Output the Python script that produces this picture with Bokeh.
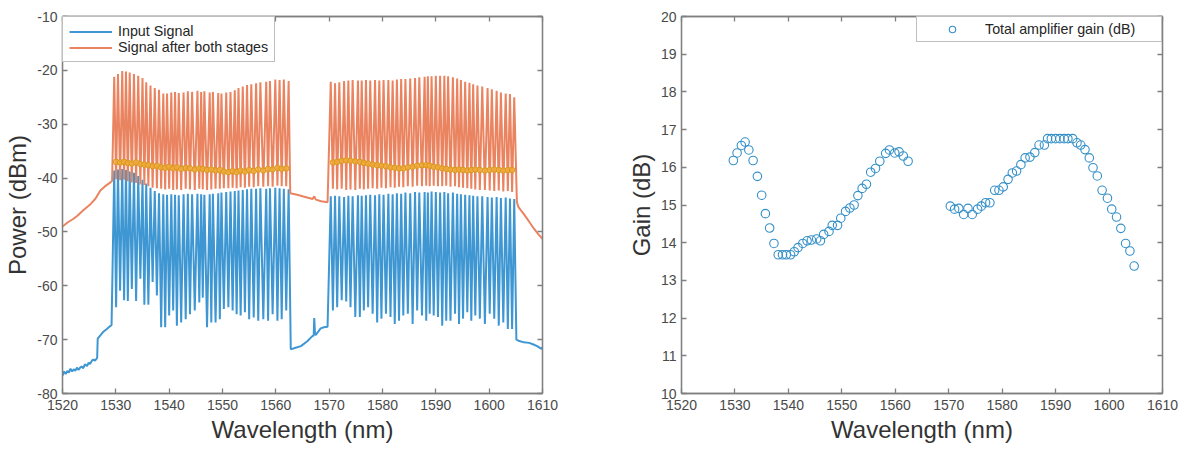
from bokeh.plotting import figure
from bokeh.models import Legend, LegendItem, LinearAxis, FixedTicker, Range1d, PrintfTickFormatter
from bokeh.layouts import row
from bokeh.embed import file_html
from bokeh.resources import INLINE

# ---------------- data: left panel (spectra) ----------------
x_ticks = [1520, 1530, 1540, 1550, 1560, 1570, 1580, 1590, 1600, 1610]
p_ticks = [-80, -70, -60, -50, -40, -30, -20, -10]
g_ticks = [10, 11, 12, 13, 14, 15, 16, 17, 18, 19, 20]

wl_band1 = [1529.7, 1530.4, 1531.2, 1531.9, 1532.6, 1533.4, 1534.2, 1535.0, 1535.7, 1536.5,
            1537.3, 1538.1, 1538.9, 1539.6, 1540.4, 1541.1, 1541.8, 1542.7, 1543.5, 1544.3,
            1545.3, 1546.0, 1546.6, 1547.6, 1548.2, 1549.2, 1549.8, 1550.7, 1551.5, 1552.3,
            1553.0, 1553.8, 1554.6, 1555.4, 1556.3, 1557.1, 1558.2, 1558.9, 1559.9, 1560.7,
            1561.5, 1562.4]
wl_band2 = [1570.3, 1571.1, 1571.9, 1572.8, 1573.6, 1574.4, 1575.4, 1576.1, 1576.9, 1577.7,
            1578.6, 1579.4, 1580.2, 1581.1, 1581.9, 1582.7, 1583.5, 1584.3, 1585.2, 1586.1,
            1586.9, 1587.9, 1588.5, 1589.2, 1590.0, 1590.8, 1591.6, 1592.3, 1593.2, 1594.0,
            1594.7, 1595.5, 1596.3, 1597.0, 1597.8, 1598.7, 1599.7, 1600.5, 1601.4, 1602.2,
            1603.1, 1603.9, 1604.7]

in_peak1 = [-38.6, -38.4, -38.3, -38.5, -38.8, -39.0, -39.6, -40.3, -41.0, -41.8,
            -42.4, -42.8, -43.0, -43.1, -43.0, -43.1, -43.2, -43.0, -42.9, -43.0,
            -42.9, -43.0, -43.1, -43.0, -42.9, -42.8, -42.7, -42.6, -42.5, -42.4,
            -42.3, -42.2, -42.1, -42.0, -42.0, -41.9, -42.0, -41.9, -41.8, -41.9,
            -42.0, -42.1]
in_dip1 = [-64.0, -60.9, -62.7, -62.8, -60.6, -62.8, -58.7, -63.5, -63.5, -59.3,
           -61.8, -67.7, -67.7, -65.5, -64.6, -67.4, -66.8, -66.2, -65.3, -64.6,
           -63.1, -62.2, -67.7, -66.8, -66.8, -66.2, -64.3, -64.0, -64.6, -65.3,
           -65.5, -64.9, -66.2, -65.9, -66.5, -66.2, -66.5, -65.3, -66.5, -66.2,
           -64.6]
in_peak2 = [-43.4, -43.3, -43.4, -43.5, -43.3, -43.4, -43.2, -43.3, -43.2, -43.1,
            -43.2, -43.0, -43.1, -42.9, -43.0, -42.8, -42.9, -42.7, -42.8, -42.6,
            -42.7, -42.6, -42.7, -42.5, -42.6, -42.7, -42.6, -42.8, -42.7, -42.9,
            -43.0, -43.1, -43.2, -43.3, -43.4, -43.4, -43.5, -43.6, -43.5, -43.7,
            -43.6, -43.8, -43.9]
in_dip2 = [-64.6, -64.0, -62.7, -62.9, -64.0, -65.8, -65.8, -64.6, -64.0, -65.2,
           -66.8, -66.1, -65.2, -65.8, -67.1, -66.5, -65.5, -65.2, -67.1, -64.6,
           -65.5, -66.5, -65.2, -65.5, -65.8, -67.4, -66.5, -66.5, -65.2, -67.1,
           -66.1, -64.9, -66.5, -65.5, -66.1, -67.1, -65.2, -66.1, -67.4, -66.8,
           -68.0, -68.0]

out_peak1 = [-21.2, -20.7, -20.1, -20.2, -20.4, -20.7, -21.0, -21.4, -22.2, -22.8,
             -23.3, -23.6, -24.3, -24.3, -24.1, -24.0, -24.2, -24.1, -23.9, -24.0,
             -23.8, -24.0, -23.9, -24.1, -24.0, -24.2, -24.3, -24.1, -24.0, -23.7,
             -23.3, -23.0, -22.7, -22.6, -22.4, -22.2, -22.1, -22.0, -21.7, -21.8,
             -21.7, -22.0]
out_low1 = [-40.2, -40.4, -40.3, -40.6, -40.8, -40.9, -41.2, -41.3, -41.5, -41.8,
            -41.9, -42.0, -42.1, -42.0, -42.2, -42.1, -42.2, -42.0, -42.1, -42.2,
            -42.0, -42.1, -42.2, -42.1, -42.0, -42.0, -41.9, -41.9, -41.8, -41.9,
            -41.7, -41.8, -41.6, -41.7, -41.5, -41.6, -41.5, -41.6, -41.4, -41.5,
            -41.5]
out_valley1 = [-37.0, -37.1, -37.0, -37.2, -37.3, -37.1, -37.4, -37.5, -37.6, -37.8,
               -37.7, -38.0, -38.1, -37.9, -38.2, -38.0, -38.3, -38.1, -38.2, -38.4,
               -38.2, -38.3, -38.5, -38.4, -38.6, -38.5, -38.8, -38.9, -38.7, -38.9,
               -38.6, -38.8, -38.5, -38.7, -38.4, -38.6, -38.3, -38.4, -38.1, -38.3,
               -38.2]
out_peak2 = [-22.1, -22.4, -22.2, -22.0, -21.9, -21.8, -21.9, -21.9, -21.8, -21.9,
             -21.8, -21.9, -21.8, -21.8, -21.9, -21.7, -21.6, -21.6, -21.5, -21.4,
             -21.3, -21.2, -21.1, -21.1, -21.0, -21.0, -21.0, -21.1, -21.3, -21.5,
             -21.8, -22.1, -22.3, -22.6, -22.8, -23.0, -23.3, -23.5, -23.8, -24.1,
             -24.3, -24.4, -25.0]
out_low2 = [-42.0, -42.1, -42.0, -42.2, -42.1, -42.2, -42.0, -42.1, -42.0, -41.9,
            -42.0, -41.8, -41.9, -41.7, -41.8, -41.6, -41.7, -41.5, -41.6, -41.4,
            -41.5, -41.4, -41.5, -41.4, -41.5, -41.5, -41.4, -41.6, -41.5, -41.7,
            -41.8, -41.9, -42.0, -42.1, -42.2, -42.2, -42.3, -42.4, -42.3, -42.5,
            -42.4, -42.6]
out_valley2 = [-37.1, -37.0, -36.8, -36.7, -36.8, -36.9, -37.0, -37.2, -37.3, -37.5,
               -37.6, -37.7, -37.8, -38.0, -38.1, -38.2, -38.2, -38.0, -37.9, -37.7,
               -37.6, -37.6, -37.7, -37.9, -38.0, -38.2, -38.3, -38.4, -38.5, -38.4,
               -38.5, -38.6, -38.5, -38.4, -38.5, -38.6, -38.5, -38.4, -38.5, -38.6,
               -38.5, -38.5]

in_left_wl = [1520.0, 1520.3, 1520.6, 1520.9, 1521.2, 1521.5, 1521.8, 1522.1, 1522.4, 1522.7,
              1523.0, 1523.3, 1523.6, 1523.9, 1524.2, 1524.6, 1524.9, 1525.2, 1525.5, 1525.8,
              1526.1, 1526.5, 1526.6, 1527.1, 1527.6, 1528.2, 1528.9, 1529.2]
in_left_p = [-76.7, -75.9, -76.4, -75.8, -76.1, -75.4, -75.9, -75.5, -75.8, -75.2,
             -75.6, -75.2, -75.0, -75.3, -74.6, -74.9, -74.3, -74.5, -73.9, -73.7,
             -73.9, -73.4, -69.8, -69.2, -68.6, -68.1, -67.5, -67.3]
in_gap_wl = [1562.8, 1563.7, 1564.7, 1565.9, 1566.8, 1567.1, 1567.2, 1567.35, 1567.5, 1568.4, 1569.0, 1569.7]
in_gap_p = [-71.8, -71.5, -71.2, -70.3, -69.4, -69.2, -66.0, -69.0, -69.1, -67.9, -67.7, -67.6]
in_right_wl = [1605.1, 1605.5, 1606.5, 1607.5, 1608.3, 1609.0, 1609.8, 1610.0]
in_right_p = [-70.0, -70.2, -70.5, -70.6, -70.9, -71.2, -71.7, -71.5]

out_left_wl = [1520.0, 1521.0, 1522.0, 1522.8, 1524.0, 1525.3, 1526.2, 1527.1, 1528.0, 1529.0, 1529.3]
out_left_p = [-49.0, -48.2, -47.6, -47.0, -45.9, -44.8, -43.8, -42.3, -41.5, -40.8, -40.5]
out_gap_wl = [1562.7, 1564.0, 1565.5, 1566.9, 1567.2, 1567.5, 1568.5, 1569.7]
out_gap_p = [-42.8, -43.1, -43.5, -43.9, -43.4, -44.0, -44.3, -44.5]
out_right_wl = [1605.2, 1605.5, 1606.5, 1607.5, 1608.4, 1609.2, 1610.0]
out_right_p = [-44.5, -45.4, -46.7, -48.1, -49.4, -50.4, -51.3]

# ---------------- data: right panel (gain) ----------------
gain_band1 = [16.18, 16.38, 16.58, 16.67, 16.46, 16.18, 15.76, 15.26, 14.77, 14.39,
              13.98, 13.68, 13.68, 13.68, 13.68, 13.76, 13.87, 13.98, 14.05, 14.07,
              14.10, 14.05, 14.22, 14.30, 14.46, 14.46, 14.65, 14.83, 14.92, 15.00,
              15.25, 15.44, 15.55, 15.87, 15.97, 16.16, 16.37, 16.46, 16.38, 16.41,
              16.30, 16.16]
gain_band2 = [14.97, 14.89, 14.91, 14.75, 14.91, 14.75, 14.89, 14.97, 15.06, 15.06,
              15.39, 15.39, 15.48, 15.68, 15.85, 15.90, 16.07, 16.25, 16.27, 16.39,
              16.59, 16.59, 16.76, 16.76, 16.76, 16.76, 16.76, 16.76, 16.76, 16.65,
              16.59, 16.47, 16.25, 15.99, 15.77, 15.39, 15.18, 14.89, 14.68, 14.38,
              13.98, 13.78, 13.38]

# ---------------- build traces ----------------
def zigzag(wl, peaks, lows):
    xs, ys = [], []
    for i in range(len(wl)):
        xs.append(wl[i]); ys.append(peaks[i])
        if i < len(wl) - 1:
            xs.append((wl[i] + wl[i + 1]) / 2.0); ys.append(lows[i])
    return xs, ys

def mids(wl):
    return [(wl[i] + wl[i + 1]) / 2.0 for i in range(len(wl) - 1)]

b1x, b1y = zigzag(wl_band1, in_peak1, in_dip1)
b2x, b2y = zigzag(wl_band2, in_peak2, in_dip2)
blue_x = in_left_wl + b1x + in_gap_wl + b2x + in_right_wl
blue_y = in_left_p + b1y + in_gap_p + b2y + in_right_p

o1x, o1y = zigzag(wl_band1, out_peak1, out_low1)
o2x, o2y = zigzag(wl_band2, out_peak2, out_low2)
orange_x = out_left_wl + o1x + out_gap_wl + o2x + out_right_wl
orange_y = out_left_p + o1y + out_gap_p + o2y + out_right_p

marker_x = mids(wl_band1) + mids(wl_band2)
marker_y = out_valley1 + out_valley2

FONT = "Liberation Sans"
FRAME = "#808080"
TICKC = "#4a4a4a"
LABC = "#333333"

def style(p, xt, yt, xlabel, ylabel):
    p.grid.visible = False
    p.outline_line_color = FRAME
    p.outline_line_width = 1.3
    p.background_fill_color = "white"
    p.border_fill_color = "white"
    for ax in p.xaxis:
        ax.ticker = FixedTicker(ticks=xt)
        ax.axis_label = xlabel
        ax.major_label_standoff = 6
        ax.axis_label_standoff = 3
    for ax in p.yaxis:
        ax.ticker = FixedTicker(ticks=yt)
        ax.axis_label = ylabel
        ax.major_label_standoff = 5
        ax.axis_label_standoff = 3
    for ax in p.xaxis + p.yaxis:
        ax.formatter = PrintfTickFormatter(format="%d")
        ax.major_tick_in = 5
        ax.major_tick_out = 0
        ax.minor_tick_line_color = None
        ax.axis_line_color = FRAME
        ax.axis_line_width = 1.3
        ax.major_tick_line_color = FRAME
        ax.major_tick_line_width = 1.3
        ax.major_label_text_font = FONT
        ax.major_label_text_font_size = "14px"
        ax.major_label_text_color = TICKC
        ax.axis_label_text_font = FONT
        ax.axis_label_text_font_size = "24px"
        ax.axis_label_text_font_style = "normal"
        ax.axis_label_text_color = LABC
    top = LinearAxis(ticker=FixedTicker(ticks=xt), major_tick_in=5, major_tick_out=0,
                     minor_tick_line_color=None, axis_line_color=FRAME, axis_line_width=1.3,
                     major_tick_line_color=FRAME, major_tick_line_width=1.3,
                     major_label_text_font_size="0px", major_label_standoff=0,
                     major_label_text_alpha=0)
    right = LinearAxis(ticker=FixedTicker(ticks=yt), major_tick_in=5, major_tick_out=0,
                       minor_tick_line_color=None, axis_line_color=FRAME, axis_line_width=1.3,
                       major_tick_line_color=FRAME, major_tick_line_width=1.3,
                       major_label_text_font_size="0px", major_label_standoff=0,
                       major_label_text_alpha=0)
    p.add_layout(top, "above")
    p.add_layout(right, "right")

# ---------------- left figure ----------------
p1 = figure(frame_width=480, frame_height=377, output_backend="svg", toolbar_location=None,
            x_range=Range1d(1520, 1610), y_range=Range1d(-80, -10),
            min_border_left=62, min_border_right=20, min_border_top=16, min_border_bottom=52)
style(p1, x_ticks, p_ticks, "Wavelength (nm)", "Power (dBm)")

r_in = p1.line(blue_x, blue_y, line_color="#3E97D2", line_width=2.0)
r_out = p1.line(orange_x, orange_y, line_color="#EA8460", line_width=2.0)
p1.scatter(marker_x, marker_y, marker="circle", size=5.5, fill_color="#F2B134", fill_alpha=0.75,
           line_color="#D9981C", line_width=1)

leg1 = Legend(items=[LegendItem(label="Input Signal", renderers=[r_in]),
                     LegendItem(label="Signal after both stages", renderers=[r_out])],
              location="top_left", margin=0, padding=6, spacing=0,
              glyph_width=43, glyph_height=15, label_height=15, label_standoff=6,
              label_text_font=FONT, label_text_font_size="14.3px", label_text_color="#262626",
              border_line_color=FRAME, border_line_width=1.3, background_fill_alpha=1)
p1.add_layout(leg1, "center")

# ---------------- right figure ----------------
p2 = figure(frame_width=481, frame_height=377, output_backend="svg", toolbar_location=None,
            x_range=Range1d(1520, 1610), y_range=Range1d(10, 20),
            min_border_left=119, min_border_right=16, min_border_top=16, min_border_bottom=52)
style(p2, x_ticks, g_ticks, "Wavelength (nm)", "Gain (dB)")

r_g = p2.scatter(wl_band1 + wl_band2, gain_band1 + gain_band2, marker="circle", size=8.5,
                 fill_color=None, line_color="#3590C8", line_width=1.1)
leg2 = Legend(items=[LegendItem(label="Total amplifier gain (dB)", renderers=[r_g])],
              location="top_right", margin=0, padding=4, spacing=0,
              glyph_width=62, glyph_height=16, label_height=16, label_standoff=2,
              label_width=172,
              label_text_font=FONT, label_text_font_size="14.3px", label_text_color="#262626",
              border_line_color=FRAME, border_line_width=1.3, background_fill_alpha=1)
p2.add_layout(leg2, "center")

layout = row(p1, p2)
open("out.html", "w").write(file_html(layout, INLINE))
